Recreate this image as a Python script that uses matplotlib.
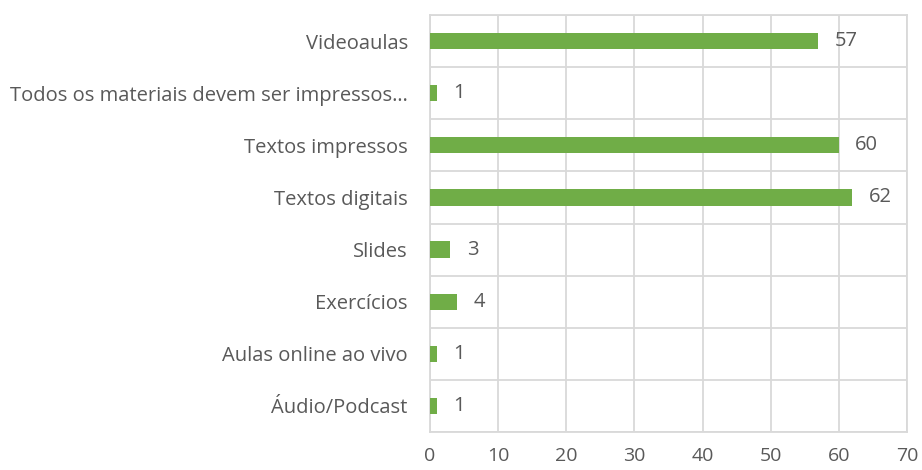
import numpy as np
import matplotlib.pyplot as plt

categories = ["Videoaulas", "Todos os materiais devem ser impressos…", "Textos impressos",
              "Textos digitais", "Slides", "Exercícios", "Aulas online ao vivo", "Áudio/Podcast"]
values = [57, 1, 60, 62, 3, 4, 1, 1]
x_ticks = [0, 10, 20, 30, 40, 50, 60, 70]

plt.rcParams['font.family'] = ['Open Sans', 'DejaVu Sans']
text_color = '#595959'
grid_color = '#D9D9D9'

fig = plt.figure(figsize=(9.22, 4.70), dpi=100)
ax = fig.add_axes([430 / 922, 1 - 432 / 470, 477 / 922, 417 / 470])

y = np.arange(len(categories))
ax.barh(y, values, height=0.31, color='#70AD47', zorder=3)
for yi, v in zip(y, values):
    ax.text(v + 2.4, yi, str(v), va='center', ha='left', fontsize=14.5, color=text_color)

ax.set_xlim(0, 70)
ax.set_ylim(len(categories) - 0.5, -0.5)
ax.set_xticks(x_ticks)
ax.set_xticklabels([str(t) for t in x_ticks], fontsize=14, color=text_color)
ax.set_yticks(y)
ax.set_yticklabels(categories, fontsize=14.5, color=text_color)
ax.set_yticks(np.arange(len(categories) + 1) - 0.5, minor=True)
ax.tick_params(axis='both', which='both', length=0)
ax.tick_params(axis='y', pad=16)
ax.tick_params(axis='x', pad=11)

ax.grid(axis='x', color=grid_color, linewidth=1.3, zorder=0)
ax.grid(axis='y', which='minor', color=grid_color, linewidth=1.3, zorder=0)
ax.grid(axis='y', which='major', visible=False)
for s in ax.spines.values():
    s.set_color(grid_color)
    s.set_linewidth(1.3)

fig.savefig('out.png', dpi=100)
